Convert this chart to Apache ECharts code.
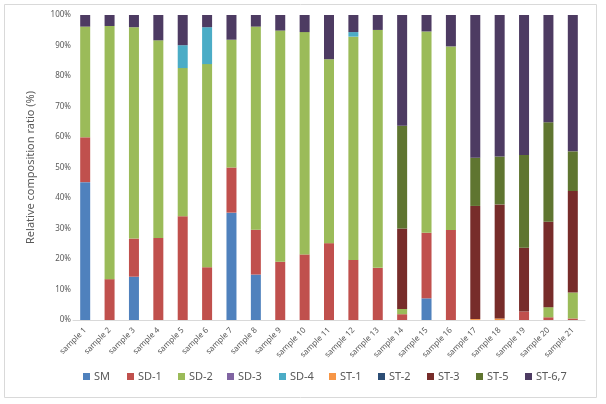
<!DOCTYPE html>
<html><head><meta charset="utf-8">
<script src="https://cdn.jsdelivr.net/npm/echarts@6/dist/echarts.min.js"></script>
<style>html,body{margin:0;padding:0;background:#fff}#c{width:606px;height:404px}</style>
</head><body><div id="c"></div>
<script>
var categories = ['sample 1','sample 2','sample 3','sample 4','sample 5','sample 6','sample 7','sample 8','sample 9','sample 10','sample 11','sample 12','sample 13','sample 14','sample 15','sample 16','sample 17','sample 18','sample 19','sample 20','sample 21'];
var yTicks = [0,10,20,30,40,50,60,70,80,90,100];
var SM    = [45.2,0,14.2,0,0,0,35.2,14.9,0,0,0,0,0,0,7.1,0,0,0,0,0,0];
var SD1   = [14.7,13.4,12.5,26.9,34.0,17.3,14.8,14.7,19.1,21.5,25.2,19.7,17.1,1.9,21.5,29.5,0,0,2.8,0.9,0.5];
var SD2   = [36.3,83.0,69.3,64.8,48.6,66.6,41.9,66.6,75.8,72.9,60.3,73.2,78.0,1.7,66.0,60.2,0,0,0,3.3,8.5];
var SD3   = [0,0,0,0,0,0,0,0,0,0,0,0,0,0,0,0,0,0,0,0,0];
var SD4   = [0,0,0,0,7.5,12.1,0,0,0,0,0,1.5,0,0,0,0,0,0,0,0,0];
var ST1   = [0,0,0,0,0,0,0,0,0,0,0,0,0,0,0,0,0.3,0.5,0,0,0];
var ST2   = [0,0,0,0,0,0,0,0,0,0,0,0,0,0,0,0,0,0,0,0,0];
var ST3   = [0,0,0,0,0,0,0,0,0,0,0,0,0,26.4,0,0,37.1,37.4,20.9,28.0,33.3];
var ST5   = [0,0,0,0,0,0,0,0,0,0,0,0,0,33.7,0,0,15.8,15.7,30.4,32.6,13.0];
var ST67  = [3.8,3.6,4.0,8.3,9.9,4.0,8.1,3.8,5.1,5.6,14.5,5.6,4.9,36.3,5.4,10.3,46.8,46.4,45.9,35.2,44.7];
var seriesNames = ['SM','SD-1','SD-2','SD-3','SD-4','ST-1','ST-2','ST-3','ST-5','ST-6,7'];
var seriesData = [SM,SD1,SD2,SD3,SD4,ST1,ST2,ST3,ST5,ST67];
var colors = ['#4F81BD','#C0504D','#9BBB59','#8064A2','#4BACC6','#F79646','#2C4D75','#772C2A','#5F7530','#4D3B62'];
var legendLeft = [83,127,178,227,279,329,378,427,476,525];

var font = 'Noto Sans';
var chart = echarts.init(document.getElementById('c'));
chart.setOption({
  animation:false,
  color: colors,
  textStyle:{fontFamily:font},
  graphic:[{type:'rect',shape:{x:4.5,y:4.5,width:592,height:393},style:{fill:'none',stroke:'#d9d9d9',lineWidth:1},silent:true}],
  grid:{left:73,right:21,top:15,bottom:84},
  legend: seriesNames.map(function(n,i){
    return {data:[n], left:legendLeft[i], top:371, padding:0, itemWidth:7, itemHeight:7, itemGap:0,
      icon:'rect', textStyle:{fontSize:11,color:'#595959',fontFamily:font,padding:[0,0,0,-1]}};
  }),
  xAxis:{
    type:'category', data:categories,
    axisLine:{lineStyle:{color:'#d9d9d9'}}, axisTick:{show:false},
    axisLabel:{rotate:45,fontSize:8,color:'#595959',margin:9,interval:0}
  },
  yAxis:{
    type:'value', min:0, max:100, interval:10,
    name:'Relative composition ratio (%)', nameLocation:'middle', nameGap:37,
    nameTextStyle:{fontSize:11,color:'#595959'},
    axisLine:{show:false}, axisTick:{show:false}, splitLine:{show:false},
    axisLabel:{fontSize:8,color:'#595959',margin:2,
      formatter:function(v){return yTicks.indexOf(v)>=0? v+'%':'';}}
  },
  series: seriesNames.map(function(n,i){
    return {name:n,type:'bar',stack:'all',barWidth:10,data:seriesData[i]};
  })
});
</script></body></html>
